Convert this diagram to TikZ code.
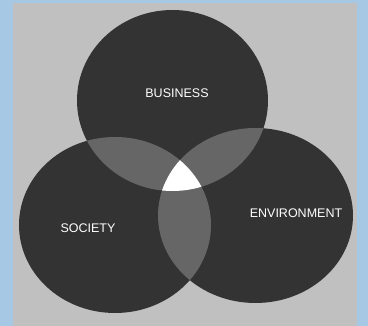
\documentclass[tikz,border=0pt]{standalone}
\usepackage{fontspec}
\setmainfont{Liberation Sans}
\usetikzlibrary{positioning,shapes.geometric}
\definecolor{frameblue}{HTML}{A6C8E4}
\definecolor{panelgrey}{HTML}{C0C0C0}
\definecolor{setdark}{HTML}{333333}
\definecolor{setmid}{HTML}{666666}

\begin{document}
\begin{tikzpicture}[x=1pt,y=-1pt,
                    set node/.style={ellipse,fill=setdark,inner sep=0pt},
                    set label/.style={text=white,inner sep=0pt,font=\fontsize{12.5}{14}\selectfont}]

  \fill[frameblue] (0,0) rectangle (368,326);
  \fill[panelgrey] (13,3) rectangle (357,326);
  \useasboundingbox (0,0) rectangle (368,326);

  \node[set node,minimum width=191pt,minimum height=181pt] (business) at (172.5,100.5) {};
  \node[set node,minimum width=192pt,minimum height=176pt] (society) at (115,225) {};
  \node[set node,minimum width=195pt,minimum height=175pt] (environment) at (255.5,215.5) {};

  % pairwise overlaps
  \begin{scope}
    \clip (business.center) ellipse [x radius=95.5pt,y radius=90.5pt];
    \fill[setmid] (society.center) ellipse [x radius=96pt,y radius=88pt];
    \fill[setmid] (environment.center) ellipse [x radius=97.5pt,y radius=87.5pt];
  \end{scope}
  \begin{scope}
    \clip (society.center) ellipse [x radius=96pt,y radius=88pt];
    \fill[setmid] (environment.center) ellipse [x radius=97.5pt,y radius=87.5pt];
    % all three
    \clip (business.center) ellipse [x radius=95.5pt,y radius=90.5pt];
    \fill[white] (environment.center) ellipse [x radius=97.5pt,y radius=87.5pt];
  \end{scope}

  \node[set label] (business label) at (177,93) {BUSINESS};
  \node[set label] (society label) at (88,228) {SOCIETY};
  \node[set label] (environment label) at (296,213) {ENVIRONMENT};
\end{tikzpicture}
\end{document}
